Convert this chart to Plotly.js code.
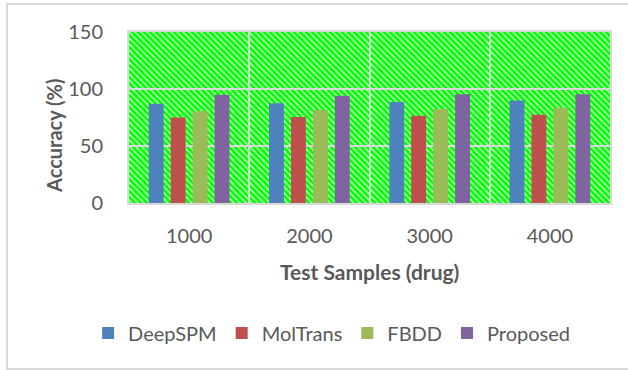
<!DOCTYPE html>
<html>
<head>
<meta charset="utf-8">
<script src="https://cdn.plot.ly/plotly-3.0.1.min.js"></script>
<style>
html,body{margin:0;padding:0;background:#fff;}
#chart{width:628px;height:370px;}
</style>
</head>
<body>
<div id="chart"></div>
<script>
// ---- data ----
const categories = ['1000', '2000', '3000', '4000'];
const deepSPM  = [87, 87.5, 88.5, 90];
const molTrans = [75, 75.5, 76.5, 77.5];
const fbdd     = [80.5, 81.5, 82.5, 83.5];
const proposed = [95, 94, 95.5, 95.5];
const seriesNames = ['DeepSPM', 'MolTrans', 'FBDD', 'Proposed'];
const yTicks = [0, 50, 100, 150];

// ---- styles ----
const colors = ['#4f81bd', '#c0504d', '#9bbb59', '#8064a2'];
const FONT = 'Lato, "Liberation Sans", sans-serif';
const TXT = '#595959';

const seriesValues = [deepSPM, molTrans, fbdd, proposed];
const traces = seriesValues.map((vals, i) => ({
  type: 'bar',
  name: seriesNames[i],
  x: categories,
  y: vals,
  marker: {color: colors[i]},
  hoverinfo: 'x+y+name'
}));

// striped background (green with light diagonal stripes)
const W = 481, H = 171;
const svg = `<svg xmlns="http://www.w3.org/2000/svg" width="${W}" height="${H}" viewBox="0 0 ${W} ${H}">` +
  `<defs><pattern id="p" patternUnits="userSpaceOnUse" width="6" height="6">` +
  `<rect width="6" height="6" fill="#00ff00"/>` +
  `<path d="M-1,-1 L7,7 M-4,2 L2,8 M4,-2 L8,2" stroke="#ffffff" stroke-opacity="0.65" stroke-width="1.7"/>` +
  `</pattern></defs><rect width="${W}" height="${H}" fill="url(#p)"/></svg>`;
const bgSrc = 'data:image/svg+xml;base64,' + btoa(svg);

const layout = {
  width: 628, height: 370,
  margin: {l: 129, r: 18, t: 32, b: 167, autoexpand: false},
  paper_bgcolor: '#ffffff',
  plot_bgcolor: '#00ff00',
  font: {family: FONT, size: 20, color: TXT},
  barmode: 'group',
  bargap: 0.27,
  bargroupgap: 0.32,
  showlegend: true,
  legend: {
    orientation: 'h', x: -0.085, xanchor: 'left', y: -0.76, yanchor: 'middle',
    font: {family: FONT, size: 20, color: TXT}, itemwidth: 30, traceorder: 'normal'
  },
  xaxis: {
    type: 'category',
    tickson: 'boundaries',
    showgrid: true, gridcolor: '#d9d9d9', gridwidth: 2,
    showline: true, linecolor: '#d9d9d9', linewidth: 2, mirror: true,
    ticks: '', ticklabelstandoff: 14,
    tickfont: {family: FONT, size: 20, color: TXT},
    zeroline: false
  },
  yaxis: {
    range: [0, 150],
    tickvals: yTicks,
    ticktext: yTicks.map(String),
    showgrid: true, gridcolor: '#d9d9d9', gridwidth: 2,
    showline: true, linecolor: '#d9d9d9', linewidth: 2, mirror: true,
    ticks: '', ticklabelstandoff: 20,
    tickfont: {family: FONT, size: 20, color: TXT},
    zeroline: false
  },
  images: [{
    source: bgSrc, xref: 'x domain', yref: 'y domain',
    x: 0, y: 1, sizex: 1, sizey: 1, xanchor: 'left', yanchor: 'top',
    sizing: 'stretch', layer: 'below'
  }],
  annotations: [
    {text: '<b>Accuracy (%)</b>', xref: 'paper', yref: 'paper', x: -0.156, y: 0.392,
     xanchor: 'center', yanchor: 'middle', textangle: -90, showarrow: false,
     font: {family: FONT, size: 20, color: TXT}},
    {text: '<b>Test Samples (drug)</b>', xref: 'paper', yref: 'paper', x: 0.5, y: -0.398,
     xanchor: 'center', yanchor: 'middle', showarrow: false,
     font: {family: FONT, size: 21, color: TXT}}
  ],
  shapes: [{
    type: 'rect', xref: 'paper', yref: 'paper',
    x0: (7 - 129) / 481, x1: (660 - 129) / 481,
    y0: (203 - 369) / 171, y1: (203 - 4) / 171,
    line: {color: '#d9d9d9', width: 2}, fillcolor: 'rgba(0,0,0,0)', layer: 'below'
  }]
};

Plotly.newPlot('chart', traces, layout, {displayModeBar: false, staticPlot: true});
</script>
</body>
</html>
